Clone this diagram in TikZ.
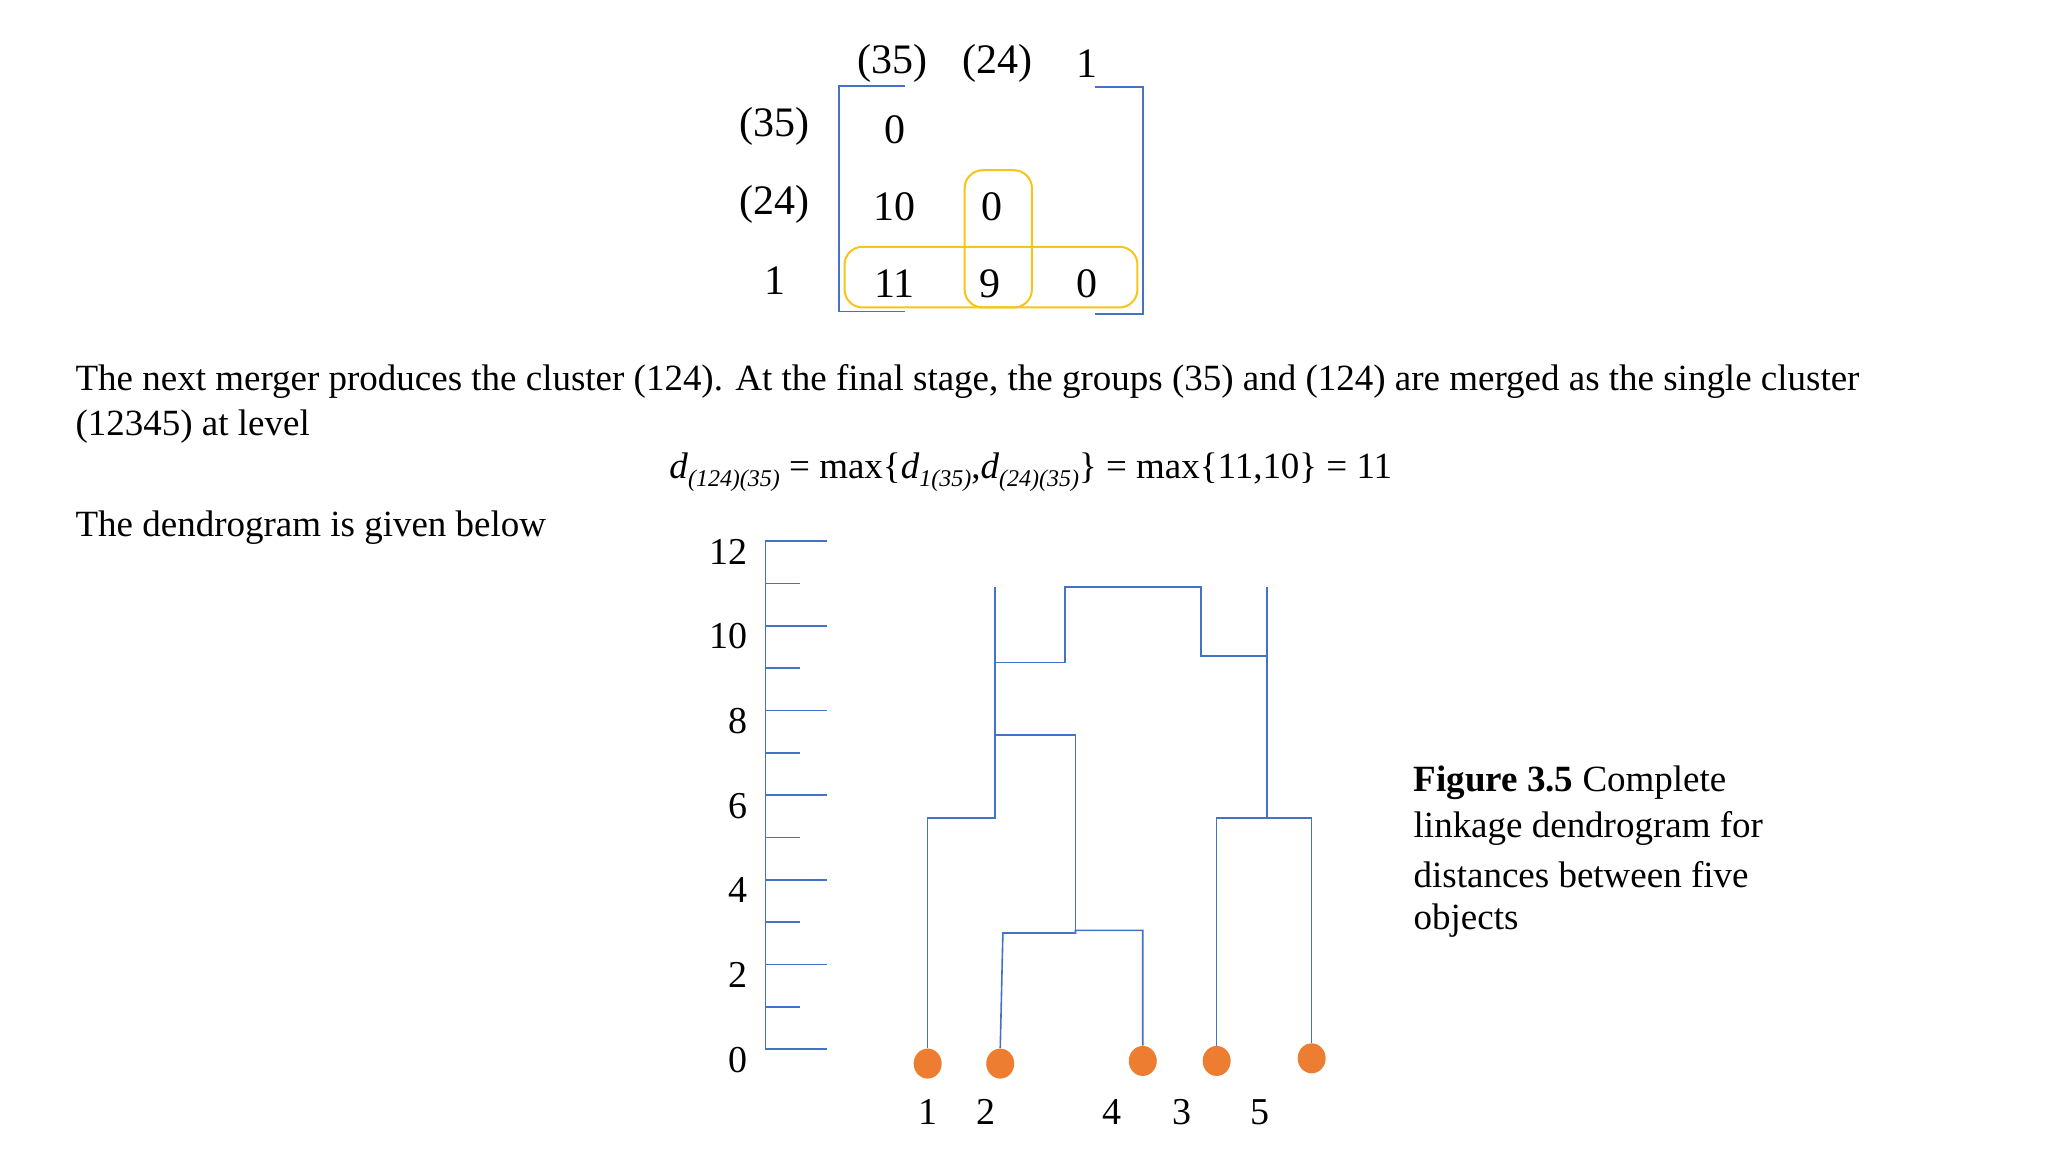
\documentclass[tikz,border=0pt]{standalone}
\usepackage{fontspec}
\setmainfont{Liberation Serif}
\usetikzlibrary{shapes.geometric}
\definecolor{lblue}{HTML}{4472C4}
\definecolor{dorange}{HTML}{ED7D31}
\definecolor{ybox}{HTML}{F5C518}
\newcommand{\sbx}[1]{\raisebox{-0.45ex}{\fontsize{12}{12}\selectfont\textit{#1}}}
\begin{document}
\begin{tikzpicture}[x=0.66pt,y=-0.66pt,
  ln/.style={draw=lblue,line width=0.8pt},
  yb/.style={draw=ybox,line width=1pt,rounded corners=9pt},
  mt/.style={font=\fontsize{21}{21}\selectfont,inner sep=0pt},
  dt/.style={font=\fontsize{19}{19}\selectfont,inner sep=0pt},
  bt/.style={font=\fontsize{18.5}{22}\selectfont,inner sep=0pt,anchor=west},
  dot/.style={ellipse,fill=dorange,minimum width=14pt,minimum height=15pt,inner sep=0pt}]
\useasboundingbox (0,0) rectangle (1552,873);
% matrix
\draw[ln] (686,65) -- (636,65) -- (636,236) -- (686,236);
\draw[ln] (830,66) -- (866,66) -- (866,238) -- (830,238);
\draw[yb] (640,187) rectangle (862,233);
\draw[yb] (731,129) rectangle (782,233);
\node[mt] (h1) at (676,48) {(35)};
\node[mt] (h2) at (756,48) {(24)};
\node[mt] (h3) at (824,48) {1};
\node[mt] (r1) at (587,96) {(35)};
\node[mt] (r2) at (587,155) {(24)};
\node[mt] (r3) at (587,213) {1};
\node[mt] (m11) at (678,98) {0};
\node[mt] (m21) at (678,157) {10};
\node[mt] (m22) at (752,157) {0};
\node[mt] (m31) at (678,215) {11};
\node[mt] (m32) at (750,215) {9};
\node[mt] (m33) at (824,215) {0};
% text
\node[bt] (t1) at (57,289) {The next merger produces the cluster (124). At the final stage, the groups (35) and (124) are merged as the single cluster};
\node[bt] (t2) at (57,323) {(12345) at level};
\node[bt] (f) at (507,358) {\textit{d}\sbx{(124)(35)} = max\{\textit{d}\sbx{1(35)},\textit{d}\sbx{(24)(35)}\} = max\{11,10\} = 11};
\node[bt] (t3) at (57,400) {The dendrogram is given below};
% axis
\draw[ln] (627,410) -- (580,410) -- (580,795) -- (627,795);
\foreach \i in {1,...,11}{
  \pgfmathsetmacro{\yy}{795-\i*385/12}
  \ifodd\i \draw[ln] (580,\yy) -- (606,\yy); \else \draw[ln] (580,\yy) -- (627,\yy); \fi}
\foreach \v in {0,2,...,12}{
  \pgfmathsetmacro{\yy}{797-\v*385/12+6}
  \node[dt,anchor=east] at (567,\yy) {\v};}
% leaves
\node[dot] (l1) at (703,806) {};
\node[dot] (l2) at (758,806) {};
\node[dot] (l4) at (866,804) {};
\node[dot] (l3) at (922,804) {};
\node[dot] (l5) at (994,802) {};
\node[dt] (n1) at (703,843) {1};
\node[dt] (n2) at (747,843) {2};
\node[dt] (n4) at (843,843) {4};
\node[dt] (n3) at (896,843) {3};
\node[dt] (n5) at (955,843) {5};
% tree
\draw[ln] (l1.north) -- (703,620) -- (754,620) -- (754,445);
\draw[ln] (l2.north) -- (760,707) -- (815,707) -- (815,705) -- (866,705) -- (l4.north);
\draw[ln] (815,707) -- (815,557) -- (754,557);
\draw[ln] (754,502) -- (807,502) -- (807,445) -- (910,445) -- (910,497) -- (960,497);
\draw[ln] (960,445) -- (960,620);
\draw[ln] (l3.north) -- (922,620) -- (994,620) -- (l5.north);
% caption
\node[bt] (c1) at (1071,593) {\textbf{Figure 3.5} Complete};
\node[bt] (c2) at (1071,628) {linkage dendrogram for};
\node[bt] (c3) at (1071,663) {distances between five};
\node[bt] (c4) at (1071,698) {objects};
\end{tikzpicture}
\end{document}
